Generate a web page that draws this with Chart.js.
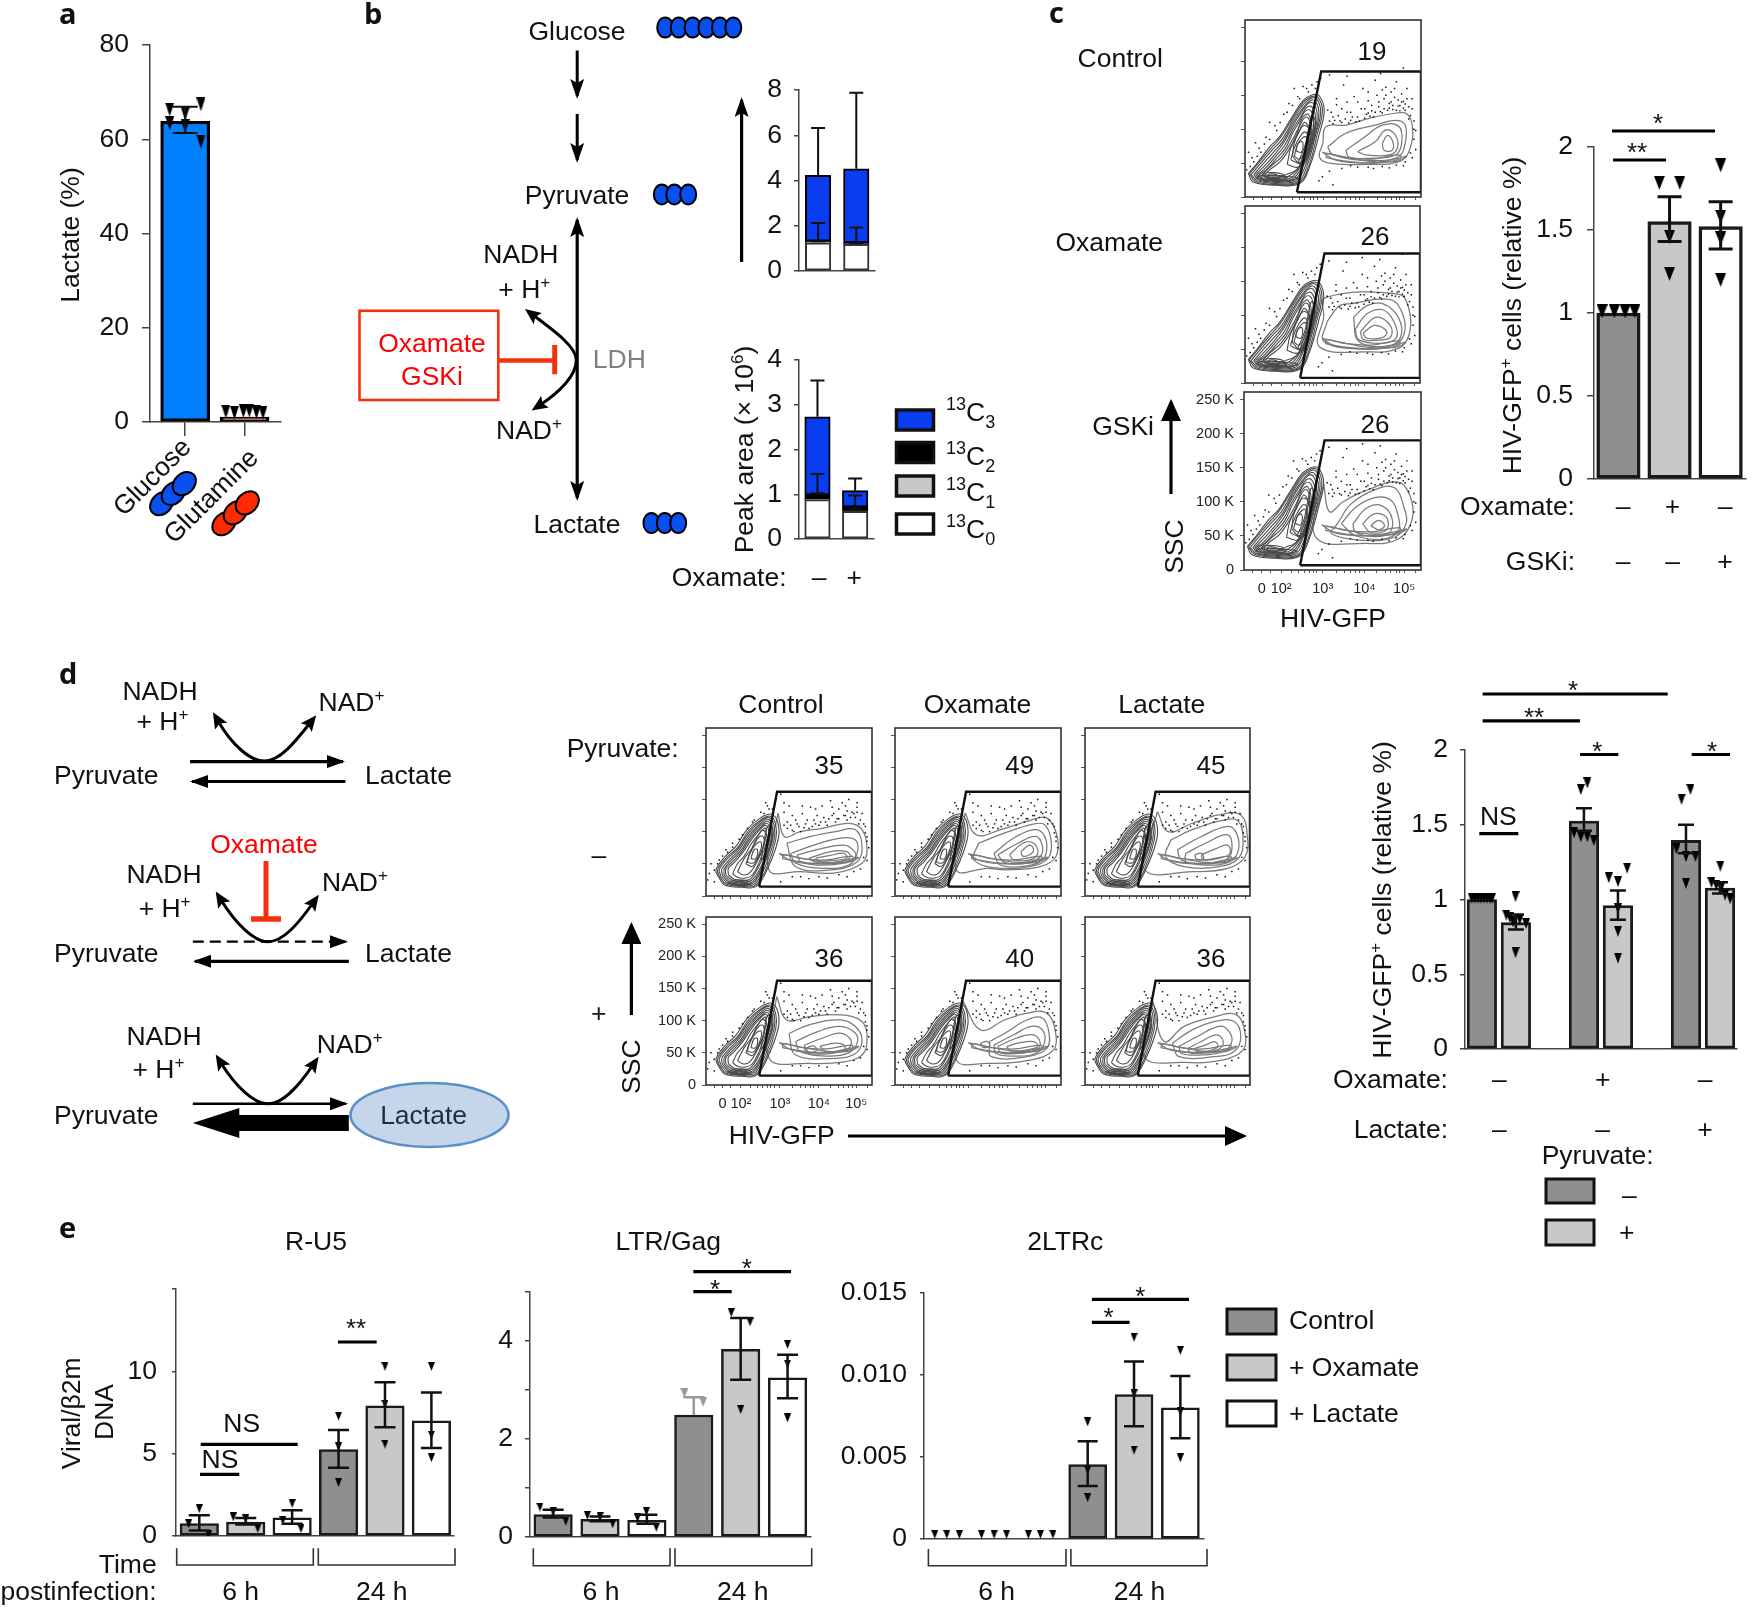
<!DOCTYPE html>
<html>
<head>
<meta charset="utf-8">
<script src="https://cdn.jsdelivr.net/npm/chart.js@4"></script>
<style>
  html, body { margin: 0; background: #fff; }
  #page { position: relative; width: 1752px; height: 1607px; overflow: hidden; background: #fff; }
  #page canvas { position: absolute; }
  #overlay { position: absolute; left: 0; top: 0; pointer-events: none; }
</style>
</head>
<body>
<div id="page"></div>
<script>
// ---- panel a
const aPos = [0, 1];
const aValues = [63.8, 1.07];
const aColors = ['#0080ff', '#f0605a'];
const aErrHi = [66.9];
const aErrLo = [61.3];
const aTriX = [-0.26, -0.26, 0, 0, 0.265, 0.265, 0.685, 0.83, 0.98, 1.08, 1.2, 1.31];
const aTriY = [66.3, 63.4, 65.4, 62.8, 67.4, 59.5, 2.2, 2, 2.3, 2.4, 2.1, 2];
const aYTicks = [0, 20, 40, 60, 80];
const aYLabels = ['0', '20', '40', '60', '80'];

// ---- panel b, stacked isotopologues (pyruvate on top, lactate below)
const bPos = [0, 1];
const pyrC0 = [1.25, 1.18];
const pyrC1 = [0.01, 0.01];
const pyrC2 = [0.06, 0.05];
const pyrC3 = [2.91, 3.28];
const pyrErrX = [0, 1, 0, 1];
const pyrErrHi = [6.32, 7.88, 2.12, 1.92];
const pyrErrLo = [4.23, 4.52, 1.31, 1.24];
const pyrLoCap = [false, false, true, true];
const pyrYTicks = [0, 2, 4, 6, 8];
const lacC0 = [0.88, 0.62];
const lacC1 = [0.01, 0.01];
const lacC2 = [0.09, 0.08];
const lacC3 = [1.75, 0.37];
const lacErrX = [0, 1, 0, 1];
const lacErrHi = [3.54, 1.35, 1.45, 0.97];
const lacErrLo = [2.73, 1.08, 1.02, 0.68];
const lacLoCap = [false, false, true, true];
const lacYTicks = [0, 1, 2, 3, 4];

// ---- panel c bars
const cPos = [0, 1, 2];
const cValues = [1.0, 1.55, 1.52];
const cErrX = [1, 2];
const cErrHi = [1.70, 1.67];
const cErrLo = [1.43, 1.385];
const cTriX = [-0.32, -0.08, 0.13, 0.32, 0.8, 1.2, 1, 1, 2, 2, 2, 2];
const cTriY = [1.01, 1.01, 1.01, 1.01, 1.785, 1.785, 1.46, 1.236, 1.89, 1.58, 1.45, 1.2];
const cYTicks = [0, 0.5, 1, 1.5, 2];
const cYLabels = ['0', '0.5', '1', '1.5', '2'];

// ---- panel d bars
const dPos = [0, 1, 3, 4, 6, 7];
const dValues = [1.0, 0.845, 1.525, 0.96, 1.395, 1.077];
const dErrX = [1, 3, 4, 6, 7];
const dErrHi = [0.9, 1.61, 1.06, 1.5, 1.115];
const dErrLo = [0.8, 1.46, 0.865, 1.31, 1.04];
const dTriX = [-0.3, -0.21, -0.12, -0.03, 0.06, 0.15, 0.24, 0.3,
  0.99, 0.72, 0.82, 0.92, 1.11, 1.3, 0.99,
  2.91, 3.1, 2.71, 2.91, 3.1, 3.29,
  4.27, 3.73, 4, 4, 4, 4,
  5.87, 6.13, 5.72, 6, 6.28, 6,
  7.01, 6.75, 6.89, 7.03, 7.15, 7.3];
const dTriY = [1.01, 1.01, 1.01, 1.01, 1.01, 1.01, 1.01, 1.01,
  1.02, 0.895, 0.88, 0.85, 0.865, 0.84, 0.645,
  1.736, 1.78, 1.446, 1.42, 1.42, 1.395,
  1.21, 1.146, 1.12, 0.94, 0.787, 0.608,
  1.67, 1.736, 1.338, 1.287, 1.287, 1.108,
  1.223, 1.113, 1.095, 1.077, 1.03, 1.005];

// ---- panel e bars
const ePos = [0, 1, 2, 3, 4, 5];
const ruValues = [0.75, 0.85, 1.1, 5.25, 7.9, 7.0];
const ruErrHi = [1.26, 1.1, 1.56, 6.43, 9.33, 8.72];
const ruErrLo = [0.34, 0.7, 0.75, 4.14, 6.6, 5.35];
const ruTriX = [-0.23, 0, 0.2, 0.73, 1, 1.26, 1.8, 2, 2.19, 3, 3, 3, 4, 4, 4, 5, 5, 5];
const ruTriY = [0.75, 1.66, 0.08, 1.16, 1.05, 0.45, 0.95, 1.97, 0.45, 7.28, 5.42, 3.25, 10.3, 8, 5.58, 10.3, 6.13, 4.75];
const ruYTicks = [0, 5, 10, 15];
const ruYLabels = ['0', '5', '10', ''];

const gagValues = [0.46, 0.36, 0.34, 2.49, 3.83, 3.25];
const gagErrHi = [0.556, 0.42, 0.454, 2.85, 4.47, 3.72];
const gagErrLo = [0.4, 0.32, 0.27, 2.49, 3.21, 2.83];
const gagLoCap = [true, true, true, false, true, true];
const gagTriX = [-0.28, 0, 0.27, 0.73, 1, 1.27, 1.8, 1.99, 2.2, 3.8, 4.2, 4, 5, 5, 5];
const gagTriY = [0.61, 0.52, 0.32, 0.44, 0.42, 0.27, 0.39, 0.52, 0.2, 4.58, 4.39, 2.6, 3.93, 3.53, 2.43];
const gagGreyTriX = [2.8, 3.2];
const gagGreyTriY = [2.94, 2.76];
const gagYTicks = [0, 1, 2, 3, 4, 5];
const gagYLabels = ['0', '', '2', '', '4', ''];

const lrcValues = [0, 0, 0, 0.00454, 0.0088, 0.008];
const lrcErrX = [3, 4, 5];
const lrcErrHi = [0.00596, 0.01083, 0.00994];
const lrcErrLo = [0.00323, 0.00688, 0.00615];
const lrcTriX = [-0.3, -0.04, 0.23, 0.71, 0.98, 1.25, 1.72, 1.98, 2.25, 3, 3, 3, 4, 4, 4, 5, 5, 5];
const lrcTriY = [0.00028, 0.00028, 0.00028, 0.00028, 0.00028, 0.00028, 0.00028, 0.00028, 0.00028,
  0.00714, 0.0042, 0.00252, 0.0123, 0.00886, 0.00542, 0.0115, 0.00775, 0.00495];
const lrcYTicks = [0, 0.005, 0.01, 0.015];
const lrcYLabels = ['0', '0.005', '0.010', '0.015'];

// ---- flow plots: x is percent of the display axis, y is SSC in thousands
const flowYTicks = [0, 50, 100, 150, 200, 250];
const flowYLabels = ['0', '50 K', '100 K', '150 K', '200 K', '250 K'];
const flowXTicks = [5, 10, 15, 21, 27, 31, 34, 37, 39, 41, 44.5, 52, 57, 60, 63, 65, 68, 75, 80, 83, 86, 88, 90.5, 97];
const flowXLabels = { 10: '0', 21: '10²', 44.5: '10³', 68: '10⁴', 90.5: '10⁵' };

const flowLeftC = [
  [[1.9,34.6],[4.7,22],[17.9,17.3],[31,19.8],[36.7,44.5],[42.3,93.9],[45,128],[42.3,149],[38.5,150.7],[33,142],[26.3,116],[19.7,89],[14,74],[6.6,49]],
  [[2.5,34],[6,23],[18,18.5],[30.5,21],[36,44],[41,92],[44,127],[41.5,147],[38,148],[33,139],[26.5,114],[20,87],[14.5,71],[7,48]],
  [[3.5,33],[7,24],[18,20],[30,22],[35,44],[40,90],[43,125],[41,144],[38,146],[33,136],[27,112],[21,85],[15,68],[8,47]],
  [[5,33],[8,25],[18,21.5],[29,23.5],[34,44],[39.5,90],[42,123],[40,141],[37,142],[32.5,130],[27,108],[21.5,82],[15.5,64],[9,45]],
  [[6,33],[9,26],[18,23],[28,25],[33,45],[39,90],[41,120],[39,138],[36,138],[32,125],[27,104],[22,80],[16,60],[10,43]],
  [[7,33],[10,26.5],[18,24.5],[27,26.5],[32.5,46],[38.5,89],[40,118],[38,133],[35,132],[31.5,118],[27,99],[22.5,76],[16.5,57],[11,41]],
  [[8,33],[11,27],[18,26],[26,28],[32,48],[38,88],[39,115],[37,128],[34,126],[31,112],[27,94],[23,72],[17,54],[12,40]],
  [[9.5,32.5],[12.5,27.5],[19,27.5],[25,31],[30,42],[35.5,70],[38,100],[36,122],[33,118],[30,100],[26,80],[21,60],[15,46]],
  [[11,32],[14,28],[20,29],[24,34],[28,38],[33,50],[37,85],[37,108],[35,118],[32,110],[29,90],[25,70],[20,52],[14,40]],
  [[24,48],[30,44],[35,58],[37,85],[36,102],[33,105],[30,92],[26,72]],
  [[26,55],[31,50],[35,65],[36,88],[34,96],[31,88],[28,72]],
  [[27,60],[32,48],[36,70],[37,95],[34,110],[31,98],[28,80]],
  [[28,60],[31,56],[35,72],[35,88],[33,88],[30,78]],
  [[29,68],[32,66],[33,78],[32,82],[30,78]],
  [[30,50],[34,52],[38,80],[40,110],[38,120],[36,100],[34,75]],
  [[31,46],[34,50],[37,72],[39,95],[37,100],[35,78]],
  [[6,28],[14,24],[24,24],[30,28],[20,31],[10,32]],
  [[12,30],[18,26],[24,28],[22,31],[15,32]],
  [[10,31],[15,29],[20,30],[22,33],[16,36],[11,35]],
  [[13,31.5],[17,31],[18,33],[14,34]]
];
const flowDotsC = [[47,128],[50,118],[52,136],[54,112],[56,165],[58,125],[60,113],[62,148],[64,118],[66,130],[67,160],[69,122],[70,142],[72,127],[73,118],[74,172],[75,150],[76,133],[78,124],[79,145],[80,162],[81,128],[82,138],[83,155],[84,129],[85,147],[86,170],[87,134],[88,127],[89,152],[90,141],[91,128],[92,160],[93,133],[94,120],[95,145],[96,112],[97,98],[96,85],[97,70],[95,58],[90,46],[82,43],[73,42],[64,44],[55,42],[48,38],[44,30],[50,18],[42,24],[38,165],[41,170],[36,155],[30,148],[25,138],[22,122],[17,105],[12,88],[8,72],[4,58],[2,66],[1,40],[6,80],[14,110],[28,160],[33,163],[48,180],[58,178],[67,185],[77,182],[90,190],
  [48,112],[50,108],[51,113],[53,120],[55,110],[57,115],[59,109],[61,118],[63,111],[65,112],[68,116],[70,124],[71,119],[74,125],[77,126],[79,130],[82,131],[84,135],[86,128],[88,135],[90,131],[91,137],[89,140],[87,143],[83,140],[80,150],[76,140],[72,135],[68,130],[60,125],[55,130],[49,125],[52,145],[58,140],[64,140],[70,155],[78,158],[85,160],[92,145],[95,130],[93,115],[96,100],[94,65],[91,52],[86,47],[78,45],[70,44],[60,46],[3,45],[5,52],[7,60],[9,66],[11,78],[14,85],[18,98],[20,110],[24,125],[27,135],[31,145],[35,160],[40,160],[43,175]];
const flowBand = [
  [[46,58],[60,52],[75,50],[88,56],[88,62],[72,56],[58,58],[47,64]],
  [[44,66],[55,60],[70,53],[85,52],[92,60],[85,56],[70,50],[52,54]]
];
const flowRightC1 = [
  [[44.2,79],[46,103.7],[57.3,106],[70.5,116],[85.5,123.5],[92,122.5],[95,106],[94.6,79],[89,54],[70.5,48],[48,50],[42.3,59]],
  [[47,74],[57.3,94],[74,106],[85.5,113],[91,106],[91,79],[87,59],[70.5,54],[50,62]],
  [[57.3,69],[67,86.5],[78,106],[87.5,104],[89,79],[85.5,62],[70.5,57],[59,59]],
  [[64,67],[74,81.5],[80,99],[85.5,91],[86.5,71.6],[82,62],[68.6,62]],
  [[78,79],[81,91],[84,81.5],[83.6,69],[79,69]]
];
const flowRightC2 = [
  [[45,97],[46,126],[87.6,131],[93.5,111],[94,73],[87.6,51],[69.7,46],[42.7,53]],
  [[47,91],[54,114],[60.7,117],[83,123],[90,102],[91,73],[85,56],[66,51],[45,61.5]],
  [[62,97],[69.7,114],[78.6,117],[87.6,97],[88.8,67],[81,54.5],[65,61.5]],
  [[63,79],[69.7,102],[78.6,108],[85,91],[86.5,67],[78.6,58.6],[65,64]],
  [[66,76],[75,97],[83,85],[83,67],[74,63],[67.4,64.5]],
  [[67.4,73],[74,85],[81,76],[78.6,67],[69.7,66]]
];
const flowRightC3 = [
  [[45,126],[48.3,85.5],[56,100],[67,114.6],[87,129],[93.8,109],[95,74],[87,45],[69.4,39],[40.6,48]],
  [[52.8,68],[60.5,97],[73.8,117.6],[85,120.5],[90.5,91],[91.6,68],[85,48],[67,43.6],[49.4,53.5]],
  [[55,68],[62.7,91],[73.8,106],[82.7,103],[87,80],[87,56.5],[78,45],[62.7,50.6]],
  [[61.6,68],[69.4,91],[78,94],[83.8,74],[81.6,53.5],[71.6,49.5],[62.7,56.5]],
  [[67,68],[73.8,82.6],[80.5,77],[80.5,59],[71.6,55]],
  [[71.6,65],[76,72.7],[79.4,65],[76,59]]
];
const gateC1 = [[29.5,7],[43.3,185],[100,185],[100,7],[29.5,7]];
const gateC2 = [[31.5,7.6],[45.4,191],[100,191],[100,7.6],[31.5,7.6]];
const gateC3 = [[31.7,7],[45.5,190],[100,190],[100,7],[31.7,7]];
const gateD = [[32,14.5],[42.8,162],[100,162],[100,14.5],[32,14.5]];

const flowLeftD = [
  [[7.4,30],[11.4,17],[22,13.5],[30,14.5],[36.7,40.5],[43.4,87],[43.4,113],[39.4,127],[32.7,121],[24.7,103],[18,77],[11.4,61],[6,40.5]],
  [[8.2,30],[12,18.5],[22,15],[29.5,16],[36,41],[42,87],[42,111],[38.7,124],[33,118],[25.5,101],[19,75],[12,59],[7,40.5]],
  [[9,31],[13,20],[22,16.5],[29,18],[35,42],[41,87],[41,110],[38,122],[33,116],[26,99],[19.5,74],[13,58],[8,41]],
  [[10,31.5],[14,21.5],[22,18],[28.5,20],[34,43],[40,86],[40,108],[37.5,119],[33,113],[26.5,96],[20,72],[14,56],[9.5,41.5]],
  [[11,32],[15,23],[22,20],[28,22],[33.5,44],[39.5,85],[39.5,106],[37,116],[33,110],[27,94],[21,71],[15,55],[11,42]],
  [[12,32.5],[16,24.5],[22,22],[27.5,24.5],[33,45],[39,85],[39,103],[36.5,113],[32.7,106],[27.2,91],[21.5,69],[16,53.5],[12,42.5]],
  [[13.5,33],[17,26],[22,24],[27,27],[32,47],[38,84],[38,100],[36,110],[32.5,103],[27.5,88],[22,67],[17,52],[13.5,43]],
  [[16,35],[19,29],[24,28],[28,33],[32,52],[36.5,84],[36.5,96],[34,102],[31.5,95],[27,80],[23,62],[19,50]],
  [[19,38],[22,33],[26,35],[31,55],[35,80],[34.5,92],[32,92],[28,75],[23,58]],
  [[24,50],[28,46],[32,62],[35.5,85],[36,105],[33,100],[29,82]],
  [[25,52],[29,52],[33,72],[33,84],[30,80],[26,64]],
  [[27,58],[30,58],[31,72],[29,72]],
  [[33,55],[35,62],[38,85],[39,105],[37,108],[35,85]],
  [[13,20],[20,17],[27,19],[26,23],[18,25]],
  [[15,19],[20,16],[26,18],[24,21],[18,22]],
  [[17,19],[21,17.5],[24,19],[20,20.5]]
];
const flowDotsD = [[45,158],[47,130],[49,115],[50,140],[52,102],[54,118],[56,108],[58,128],[60,112],[62,105],[63,138],[65,118],[67,125],[68,110],[70,140],[72,115],[74,120],[75,148],[77,128],[79,120],[80,135],[82,145],[84,125],[85,118],[86,150],[88,130],[90,122],[91,138],[92,112],[94,128],[96,108],[97,92],[98,75],[97,55],[93,42],[85,30],[73,28],[62,27],[52,30],[45,22],[38,135],[35,128],[28,115],[22,95],[16,82],[12,72],[8,56],[3,50],[2,35],[1,25],[5,22],[36,145],[42,150],
  [47,110],[49,105],[51,110],[53,100],[55,112],[57,100],[59,106],[61,118],[64,108],[66,112],[69,115],[71,122],[73,110],[76,125],[78,115],[80,120],[83,125],[85,132],[87,122],[89,128],[91,130],[93,118],[95,112],[91,145],[84,140],[76,138],[66,135],[58,140],[52,125],[47,145],[96,98],[97,85],[95,60],[89,38],[80,33],[68,30],[57,30],[5,40],[7,50],[10,62],[13,68],[16,76],[20,88],[25,105],[29,118],[33,130],[37,140],[40,135]];
const flowRightD1 = [
  [[43.4,129],[47.3,92],[56.7,100],[70,105],[86,113],[94,103],[97,71.6],[94,51],[78,36],[56.7,38],[38,40.5]],
  [[48.7,82],[62,92],[78,100],[90,103],[94,77],[91,53],[75,40.5],[54,45.7]],
  [[51,66],[65,79],[81,90],[90,87],[91,66],[86,48],[70,43],[54,51]],
  [[55,64],[70,74],[83,79],[88.6,71.6],[90,61],[83,51],[67,48],[57,53.5]],
  [[62,58.6],[75,69],[84.6,69],[87,61],[80.6,53.5],[67,52]],
  [[66,58.6],[75,63],[83,66.5],[84.6,58.6],[75,55],[67,54.5]]
];
const flowRightD2 = [
  [[42.3,129],[49,95],[63.6,103],[82,118],[91.6,121],[97.7,92.5],[96.9,61],[87.5,45.7],[66.2,40.5],[55.6,43],[37,40.5]],
  [[50.3,82],[66.2,98],[82,111],[90,111],[94,87],[92.8,61],[84.9,48],[63.6,43],[47.6,56]],
  [[59.6,66],[71.5,90],[83.5,103],[88.8,98],[91.5,77],[88.8,56],[79.5,47],[63.6,48]],
  [[62,64],[74,82],[84.9,92.5],[88.8,77],[87.5,61],[79.5,51],[66.2,52]],
  [[69,64],[77,82],[83.5,82],[86,66],[81,56],[71.5,56]],
  [[75.9,69],[81,79],[83.5,71.6],[81,64],[77,62]]
];
const flowRightD3 = [
  [[43.9,131],[50.5,100],[65,113],[81,126],[94.4,126],[98.4,92.5],[97,61],[86.5,43],[65,38],[36,41.5]],
  [[52,87],[65,103],[84,118],[93,116],[95.8,87],[93,58.6],[81,45.7],[60,45.7],[49,61]],
  [[56,71.6],[70.5,92.5],[86.5,108],[91.8,98],[93,71.6],[87.8,53.5],[73,48],[58.5,56]],
  [[61,66],[73,82],[86.5,95],[89,71.6],[85,56],[70.5,51],[61,53.5]],
  [[70.5,64],[79.8,74],[86.5,79],[87.8,66],[81,58.6],[71.8,56]],
  [[66.5,64],[70.5,66.5],[71.8,58.6],[67.8,57]]
];
const flowRightD4 = [
  [[42.6,137.5],[48.7,101],[62,106],[80.6,109],[94,98.6],[97,70],[94,46.7],[83,36],[62,33.7],[38,41.5]],
  [[50,80],[62,93.4],[80.6,101],[90,91],[94,70],[90,49],[78,41.5],[54,46.7]],
  [[54,67.5],[67.3,83],[80.6,91],[90,80.5],[91,65],[86,50],[72.6,45],[56.7,52]],
  [[59.3,62],[70,72.6],[80.6,80.5],[87.2,70],[86,57],[75,49],[60.6,50]],
  [[68.6,60],[78,65],[83.2,62],[83.2,54.5],[72.6,52]],
  [[60,57],[64.6,60.7],[66.8,54.5],[62.5,50]]
];
const flowRightD5 = [
  [[41,130],[51.6,85.6],[66.2,101],[79.5,111.6],[91.5,111.6],[96.8,80.5],[95.5,54.5],[82,39],[55.6,33.7],[37,39]],
  [[57,67.5],[66.2,80.5],[79.5,101],[88.8,104],[92.8,80.5],[91.5,57],[79.5,44],[58,44]],
  [[59.6,62],[71.5,78],[82,91],[88.8,85.6],[90,65],[84.9,49],[71.5,45],[61,49]],
  [[62,60],[73,72.6],[83.5,78],[87.5,65],[84.9,54.5],[74,49],[63.6,50]],
  [[67.5,60],[74,65],[83.5,67.5],[86,60],[79.5,54.5],[69,53.5]],
  [[51.6,65],[55.6,67.5],[57,60.7],[53,58.6]]
];
const flowRightD6 = [
  [[41.2,130],[48,67.5],[60,91],[78.5,106],[91.8,109],[97,80.5],[95.8,54.5],[83.8,39],[60,35],[36,44]],
  [[53,65],[65,85.6],[78.5,98.6],[90.4,98.6],[94.4,75],[90.4,52],[78.5,44],[57,44]],
  [[57,60],[67.8,75],[81,91],[86.5,85.6],[89,67.5],[83.8,52],[70.5,46.7],[58.5,49]],
  [[62.5,57],[70.5,67.5],[79.8,78],[83.8,67.5],[81,55.5],[70.5,50],[63.8,50]],
  [[66.5,57],[73,62],[78.5,67.5],[80.6,60],[75.8,53.5],[67.8,52]]
];

// ---- chart helpers
const FONT = '"Liberation Sans", Arial, sans-serif';
const AXIS = '#444';
const page = document.getElementById('page');

function tri(w, h, color) {
  const c = document.createElement('canvas');
  c.width = w; c.height = h;
  const g = c.getContext('2d');
  g.fillStyle = color;
  g.beginPath(); g.moveTo(0, 0); g.lineTo(w, 0); g.lineTo(w / 2, h); g.closePath(); g.fill();
  return c;
}

function triSet(xs, ys, w, h, color) {
  return {
    type: 'scatter', order: 0, pointStyle: tri(w, h, color), pointRadius: 5,
    data: xs.map((x, i) => ({ x: x, y: ys[i] }))
  };
}

function barSet(pos, vals, colors, thick, bw, edge) {
  return {
    type: 'bar', order: 2, barThickness: thick, backgroundColor: colors,
    borderColor: edge || '#222', borderWidth: bw, borderSkipped: false,
    data: pos.map((x, i) => ({ x: x, y: vals[i] }))
  };
}

function errPlugin(e) {
  return {
    id: 'errbars',
    afterDatasetsDraw(chart) {
      const g = chart.ctx, xs = chart.scales.x, ys = chart.scales.y;
      g.save();
      g.lineWidth = e.width || 2.5;
      e.x.forEach((x, i) => {
        const px = xs.getPixelForValue(x), hi = ys.getPixelForValue(e.hi[i]), lo = ys.getPixelForValue(e.lo[i]);
        g.strokeStyle = (e.colors && e.colors[i]) || '#111';
        g.beginPath();
        g.moveTo(px, lo); g.lineTo(px, hi);
        g.moveTo(px - e.cap, hi); g.lineTo(px + e.cap, hi);
        if (!e.loCap || e.loCap[i]) { g.moveTo(px - e.cap, lo); g.lineTo(px + e.cap, lo); }
        g.stroke();
      });
      g.restore();
    }
  };
}

function addCanvas(box, m) {
  const left = Math.round(box[0]), top = Math.round(box[1]);
  const c = document.createElement('canvas');
  c.width = Math.round(box[2]) - left + m.l + m.r;
  c.height = Math.round(box[3]) - top + m.t + m.b;
  c.style.left = (left - m.l) + 'px';
  c.style.top = (top - m.t) + 'px';
  page.appendChild(c);
  return c;
}

function barChart(o) {
  const m = { l: o.ml || 90, r: o.mr === undefined ? 4 : o.mr, t: 40, b: 50 };
  const c = addCanvas(o.box, m);
  new Chart(c, {
    type: 'bar',
    data: { datasets: o.datasets },
    plugins: o.err ? [errPlugin(o.err)] : [],
    options: {
      responsive: false, animation: false, events: [],
      layout: { padding: { top: m.t, right: m.r, left: 0, bottom: 0 } },
      plugins: { legend: { display: false }, tooltip: { enabled: false } },
      scales: {
        x: {
          type: 'linear', min: o.xLim[0], max: o.xLim[1], offset: false, bounds: 'data', stacked: !!o.stacked,
          afterBuildTicks: s => { s.ticks = (o.xTicks || []).map(v => ({ value: v })); },
          afterFit: s => { s.height = m.b; },
          ticks: { display: false },
          grid: { display: !!o.xTicks, offset: false, drawOnChartArea: false, drawTicks: true, tickLength: o.xTickLen || 0, color: AXIS, lineWidth: 1.5 },
          border: { display: true, color: AXIS, width: 1.5, dash: o.xDash || [] }
        },
        y: {
          type: 'linear', min: o.yLim[0], max: o.yLim[1], bounds: 'data', stacked: !!o.stacked,
          afterBuildTicks: s => { s.ticks = o.yTicks.map(v => ({ value: v })); },
          afterFit: s => { s.width = m.l; },
          ticks: {
            autoSkip: false, padding: o.tickPad, color: '#111',
            font: { family: FONT, size: 26.5 },
            callback: (v, i) => o.yLabels[i]
          },
          grid: { drawOnChartArea: false, drawTicks: true, tickLength: o.tickLen, color: AXIS, lineWidth: 1.5 },
          border: { display: true, color: AXIS, width: 1.5 }
        }
      }
    }
  });
}

const pts = arr => arr.map(p => ({ x: p[0], y: p[1] }));

const framePlugin = {
  id: 'frame',
  afterDraw(chart) {
    const a = chart.chartArea, g = chart.ctx;
    g.save();
    g.strokeStyle = '#333'; g.lineWidth = 1.6;
    g.strokeRect(a.left, a.top, a.right - a.left, a.bottom - a.top);
    g.restore();
  }
};

function flowPlot(box, left, right, dots, gate, labelled) {
  const m = { l: 70, r: 2, t: 22, b: 40 };
  const loop = (p, color, w) => ({
    data: pts(p.concat([p[0]])), showLine: true, tension: 0.4, pointRadius: 0,
    borderColor: color, borderWidth: w, fill: false, order: 3
  });
  const sets = [
    { data: pts(gate), showLine: true, tension: 0, pointRadius: 0, borderColor: '#111', borderWidth: 2.4, order: 0 },
    { data: pts(dots), showLine: false, pointRadius: 1.05, pointStyle: 'rect', backgroundColor: '#111', borderWidth: 0, order: 1 }
  ];
  left.forEach(p => sets.push(loop(p, '#4a4a4a', 1.1)));
  right.concat(flowBand).forEach(p => sets.push(loop(p, '#7a7a7a', 1.25)));
  new Chart(addCanvas(box, m), {
    type: 'scatter',
    data: { datasets: sets },
    plugins: [framePlugin],
    options: {
      responsive: false, animation: false, events: [],
      layout: { padding: { top: m.t, right: m.r, left: 0, bottom: 0 } },
      plugins: { legend: { display: false }, tooltip: { enabled: false } },
      scales: {
        x: {
          type: 'linear', min: 0, max: 100, bounds: 'data',
          afterBuildTicks: s => { s.ticks = flowXTicks.map(v => ({ value: v })); },
          afterFit: s => { s.height = m.b; },
          ticks: {
            display: labelled, autoSkip: false, maxRotation: 0, padding: 7, color: '#222',
            font: { family: FONT, size: 14.5 },
            callback: v => flowXLabels[v] || ''
          },
          grid: { drawOnChartArea: false, tickLength: 3, color: '#555' },
          border: { display: false }
        },
        y: {
          type: 'linear', min: 0, max: 261, bounds: 'data',
          afterBuildTicks: s => { s.ticks = flowYTicks.map(v => ({ value: v })); },
          afterFit: s => { s.width = m.l; },
          ticks: {
            display: labelled, autoSkip: false, padding: 6, color: '#222',
            font: { family: FONT, size: 14.5 },
            callback: (v, i) => flowYLabels[i]
          },
          grid: { drawOnChartArea: false, tickLength: 4, color: '#555' },
          border: { display: false }
        }
      }
    }
  });
}

// ---- panel a
barChart({
  box: [150, 44.5, 283, 422], xLim: [-0.592, 1.614], yLim: [0, 80], yTicks: aYTicks, yLabels: aYLabels,
  tickLen: 8, tickPad: 13, xTicks: aPos, xTickLen: 14,
  datasets: [triSet(aTriX, aTriY, 9, 14, '#000'), barSet(aPos, aValues, aColors, 49, 3.2, '#000')],
  err: { x: [0], hi: aErrHi, lo: aErrLo, cap: 12.5, width: 2 }
});

// ---- panel b
function stackSets(c0, c1, c2, c3) {
  return [
    barSet(bPos, c0, '#fff', 25.5, 2, '#333'),
    barSet(bPos, c1, '#c8c8c8', 25.5, 1, '#000'),
    barSet(bPos, c2, '#000', 25.5, 1, '#000'),
    barSet(bPos, c3, '#0a3cf0', 25.5, 2, '#000')
  ];
}
barChart({
  box: [799, 90.3, 874.7, 270.6], xLim: [-0.5, 1.49], yLim: [0, 8], yTicks: pyrYTicks, yLabels: pyrYTicks.map(String),
  tickLen: 5, tickPad: 12, stacked: true, datasets: stackSets(pyrC0, pyrC1, pyrC2, pyrC3),
  err: { x: pyrErrX, hi: pyrErrHi, lo: pyrErrLo, loCap: pyrLoCap, cap: 7, width: 2 }
});
barChart({
  box: [798.8, 359.7, 874, 538.5], xLim: [-0.49, 1.5], yLim: [0, 4], yTicks: lacYTicks, yLabels: lacYTicks.map(String),
  tickLen: 5, tickPad: 12, stacked: true, datasets: stackSets(lacC0, lacC1, lacC2, lacC3),
  err: { x: lacErrX, hi: lacErrHi, lo: lacErrLo, loCap: lacLoCap, cap: 7, width: 2 }
});

// ---- panel c
flowPlot([1245, 19.8, 1423, 197.2], flowLeftC, flowRightC1, flowDotsC, gateC1, false);
flowPlot([1245, 205.6, 1422, 383], flowLeftC, flowRightC2, flowDotsC, gateC2, false);
flowPlot([1244, 391.7, 1423, 570.2], flowLeftC, flowRightC3, flowDotsC, gateC3, true);
barChart({
  box: [1593.5, 146.8, 1752, 479.4], xLim: [-0.478, 2.496], yLim: [0, 2], yTicks: cYTicks, yLabels: cYLabels,
  tickLen: 7, tickPad: 14, mr: 0,
  datasets: [triSet(cTriX, cTriY, 11, 14, '#000'), barSet(cPos, cValues, ['#8f8f8f', '#c8c8c8', '#fff'], 43.5, 3.5, '#1a1a1a')],
  err: { x: cErrX, hi: cErrHi, lo: cErrLo, cap: 12, width: 3 }
});

// ---- panel d
flowPlot([706, 728.3, 873.8, 896], flowLeftD, flowRightD1, flowDotsD, gateD, false);
flowPlot([895.3, 728.3, 1063, 896], flowLeftD, flowRightD2, flowDotsD, gateD, false);
flowPlot([1084.5, 728.3, 1252.4, 896], flowLeftD, flowRightD3, flowDotsD, gateD, false);
flowPlot([706, 917.3, 873.8, 1085], flowLeftD, flowRightD4, flowDotsD, gateD, true);
flowPlot([895.3, 917.3, 1063, 1085], flowLeftD, flowRightD5, flowDotsD, gateD, false);
flowPlot([1084.5, 917.3, 1252.4, 1085], flowLeftD, flowRightD6, flowDotsD, gateD, false);
barChart({
  box: [1465, 750.3, 1739.3, 1048.8], xLim: [-0.496, 7.5], yLim: [0, 2], yTicks: cYTicks, yLabels: cYLabels,
  tickLen: 5, tickPad: 12,
  datasets: [triSet(dTriX, dTriY, 8, 11, '#000'),
    barSet(dPos, dValues, ['#8f8f8f', '#c8c8c8', '#8f8f8f', '#c8c8c8', '#8f8f8f', '#c8c8c8'], 29.5, 2.8, '#1a1a1a')],
  err: { x: dErrX, hi: dErrHi, lo: dErrLo, cap: 8, width: 2.5 }
});

// ---- panel e
const eColors = ['#8f8f8f', '#c8c8c8', '#fff', '#8f8f8f', '#c8c8c8', '#fff'];
barChart({
  box: [175.7, 1289.3, 456, 1535.7], xLim: [-0.502, 5.487], yLim: [0, 15], yTicks: ruYTicks, yLabels: ruYLabels,
  tickLen: 4, tickPad: 15,
  datasets: [triSet(ruTriX, ruTriY, 7, 9, '#000'), barSet(ePos, ruValues, eColors, 38.5, 2.5, '#1a1a1a')],
  err: { x: ePos, hi: ruErrHi, lo: ruErrLo, cap: 10.5, width: 2.5 }
});
barChart({
  box: [530, 1291.7, 813.3, 1537.3], xLim: [-0.493, 5.5], yLim: [0, 5], yTicks: gagYTicks, yLabels: gagYLabels,
  tickLen: 5, tickPad: 12,
  datasets: [triSet(gagTriX, gagTriY, 7, 9, '#000'), triSet(gagGreyTriX, gagGreyTriY, 8, 10, '#999'),
    barSet(ePos, gagValues, eColors, 38.5, 2.5, '#1a1a1a')],
  err: { x: ePos, hi: gagErrHi, lo: gagErrLo, loCap: gagLoCap, colors: ['', '', '', '#999', '', ''], cap: 10.5, width: 2.5 }
});
barChart({
  box: [924.4, 1292.7, 1206, 1539], xLim: [-0.532, 5.51], yLim: [0, 0.015], yTicks: lrcYTicks, yLabels: lrcYLabels,
  tickLen: 4, tickPad: 13, ml: 110, xDash: [2, 2],
  datasets: [triSet(lrcTriX, lrcTriY, 7, 9, '#000'), barSet(ePos, lrcValues, eColors, 38, 2.5, '#1a1a1a')],
  err: { x: lrcErrX, hi: lrcErrHi, lo: lrcErrLo, cap: 10, width: 2.5 }
});

// ---- text and pathway drawings on top of the charts
const out = [];
function t(x, y, s, o) {
  o = o || {};
  const rot = o.rot !== undefined ? ` transform="rotate(${o.rot} ${x} ${y})"` : '';
  out.push(`<text x="${x}" y="${y}" text-anchor="${o.a || 'start'}" font-size="${o.size || 26.5}" fill="${o.fill || '#111'}"` +
    ` font-family='${o.bold ? '"Open Sans"' : FONT}' font-weight="${o.bold ? 700 : 400}"${rot}>${s}</text>`);
}
const sup = (s, next) => `<tspan dy="-10" font-size="17">${s}</tspan>` + (next ? `<tspan dy="10">${next}</tspan>` : '');
function line(x1, y1, x2, y2, w, o) {
  o = o || {};
  out.push(`<line x1="${x1}" y1="${y1}" x2="${x2}" y2="${y2}" stroke="${o.c || '#000'}" stroke-width="${w}"` +
    (o.dash ? ` stroke-dasharray="${o.dash}"` : '') + (o.end ? ` marker-end="url(#${o.end})"` : '') + (o.start ? ` marker-start="url(#${o.start})"` : '') + '/>');
}
function curve(d, w) {
  out.push(`<path d="${d}" fill="none" stroke="#000" stroke-width="${w || 3}" marker-start="url(#headS)" marker-end="url(#headE)"/>`);
}
function oval(cx, cy, rx, ry, fill, rot) {
  out.push(`<ellipse cx="${cx}" cy="${cy}" rx="${rx}" ry="${ry}" fill="${fill}" stroke="#000" stroke-width="2"` +
    (rot ? ` transform="rotate(${rot} ${cx} ${cy})"` : '') + '/>');
}
function rect(x, y, w, h, fill, bw, c) {
  out.push(`<rect x="${x}" y="${y}" width="${w}" height="${h}" fill="${fill}" stroke="${c || '#111'}" stroke-width="${bw}"/>`);
}
// significance bar with its stars or label; the star sits at centre height yc
function sig(x1, x2, y, label, lx, yc) {
  line(x1, y, x2, y, 3.2);
  t(lx, yc + 15, label, { a: 'middle', size: 26 });
}

// panel letters
t(59, 24, 'a', { bold: true, size: 29 });
t(364, 24, 'b', { bold: true, size: 29 });
t(1049, 23, 'c', { bold: true, size: 29 });
t(59, 684, 'd', { bold: true, size: 29 });
t(59, 1238, 'e', { bold: true, size: 29 });

// panel a
t(79, 235, 'Lactate (%)', { a: 'middle', rot: -90 });
t(158, 483, 'Glucose', { a: 'middle', rot: -45 });
t(217, 502, 'Glutamine', { a: 'middle', rot: -45 });
[[161.7, 503.6], [173.3, 493.4], [184.3, 483.6]].forEach(p => oval(p[0], p[1], 13, 10, '#0a4ff0', -45));
[[224, 523.7], [235.3, 512.8], [247.3, 502.9]].forEach(p => oval(p[0], p[1], 13, 10, '#ff2a00', -45));

// panel b pathway
t(577, 40, 'Glucose', { a: 'middle' });
t(577, 204, 'Pyruvate', { a: 'middle' });
t(577, 532.7, 'Lactate', { a: 'middle' });
[665.2, 678.7, 692.6, 706.4, 719.9, 733.3].forEach(x => oval(x, 27.5, 8, 10, '#0a4ff0'));
[661.8, 674.3, 688.2].forEach(x => oval(x, 194.4, 8, 10, '#0a4ff0'));
[651.4, 664.8, 678.2].forEach(x => oval(x, 523, 8, 10, '#0a4ff0'));
line(577.2, 50.5, 577.2, 96, 3, { end: 'big' });
line(577.2, 114, 577.2, 160, 3, { end: 'big' });
line(577.2, 220, 577.2, 498, 3.2, { end: 'big', start: 'bigS' });
line(741.6, 262, 741.6, 100, 3.2, { end: 'big' });
t(520.8, 263.3, 'NADH', { a: 'middle' });
t(524.3, 297.7, '+ H' + sup('+'), { a: 'middle' });
t(496, 439, 'NAD' + sup('+'));
t(592.8, 368, 'LDH', { fill: '#808080' });
rect(359.5, 310.8, 138.8, 89.2, 'none', 2.6, '#f5300f');
t(432, 352, 'Oxamate', { a: 'middle', fill: '#f00' });
t(432, 384.6, 'GSKi', { a: 'middle', fill: '#f00' });
line(498, 360.5, 554.7, 360.5, 4.5, { c: '#f5300f' });
line(554.7, 345, 554.7, 374.3, 5, { c: '#f5300f' });
curve('M533,315 C556,332 576,347 576.3,360 C576.5,375 560,392 540,405');
t(753, 449.5, 'Peak area (× 10' + sup('6', ')'), { a: 'middle', rot: -90 });
t(671.7, 585.5, 'Oxamate:');
t(819, 585.5, '–', { a: 'middle' });
t(854.3, 585.5, '+', { a: 'middle' });
rect(896.5, 410, 37, 20, '#0a3cf0', 3.5);
rect(896.5, 442.5, 37, 20, '#000', 3.5);
rect(896.5, 476, 37, 20, '#c8c8c8', 3.5);
rect(896.5, 514, 37, 20, '#fff', 3.5);
function carbon(y, n, size) {
  t(946, y, `<tspan dy="-11" font-size="18">13</tspan><tspan dy="11">C</tspan><tspan dy="7" font-size="18">${n}</tspan>`);
}
carbon(421, 3); carbon(465, 2); carbon(501, 1); carbon(538, 0);

// panel c
t(1163, 67, 'Control', { a: 'end' });
t(1163, 251, 'Oxamate', { a: 'end' });
t(1154, 434.5, 'GSKi', { a: 'end' });
t(1372, 59.5, '19', { a: 'middle', size: 26 });
t(1375, 245, '26', { a: 'middle', size: 26 });
t(1375, 432.5, '26', { a: 'middle', size: 26 });
line(1171, 494, 1171, 402, 3.2, { end: 'huge' });
t(1183.5, 546.6, 'SSC', { a: 'middle', rot: -90 });
t(1333, 627, 'HIV-GFP', { a: 'middle' });
t(1521, 315.5, 'HIV-GFP' + sup('+', ' cells (relative %)'), { a: 'middle', rot: -90 });
sig(1612, 1715, 131, '*', 1658, 117);
sig(1613, 1666, 160, '**', 1637, 146);
t(1575, 515, 'Oxamate:', { a: 'end' });
t(1575, 569.5, 'GSKi:', { a: 'end' });
[['–', 1623], ['+', 1672.5], ['–', 1725]].forEach(p => t(p[1], 515, p[0], { a: 'middle' }));
[['–', 1623], ['–', 1672.5], ['+', 1725]].forEach(p => t(p[1], 569.5, p[0], { a: 'middle' }));

// panel d reaction schemes
t(160, 700.3, 'NADH', { a: 'middle' });
t(162.5, 730, '+ H' + sup('+'), { a: 'middle' });
t(318.5, 711.3, 'NAD' + sup('+'));
t(54, 784, 'Pyruvate');
t(365, 784, 'Lactate');
line(190, 761.6, 343, 761.6, 3.2, { end: 'small' });
line(345.4, 781.5, 192, 781.5, 3.2, { end: 'small' });
curve('M218,721 C232,745 250,761 264.5,761 C280,761 295,742 310,723');

t(264, 852.8, 'Oxamate', { a: 'middle', fill: '#f00' });
line(266, 861, 266, 919, 5, { c: '#f5300f' });
line(251, 919, 281, 919, 5.5, { c: '#f5300f' });
t(164, 882.8, 'NADH', { a: 'middle' });
t(164.6, 916.5, '+ H' + sup('+'), { a: 'middle' });
t(322, 890.7, 'NAD' + sup('+'));
t(54, 962, 'Pyruvate');
t(365, 962, 'Lactate');
line(192.8, 941.7, 330, 941.7, 2.2, { dash: '11 6' });
line(330, 941.7, 346, 941.7, 2.2, { end: 'small' });
line(348.8, 961.3, 195, 961.3, 3.2, { end: 'small' });
curve('M221,900 C236,924 254,941.7 268,941.7 C283,941.7 298,924 313,903');

t(164, 1044.6, 'NADH', { a: 'middle' });
t(158.4, 1078.4, '+ H' + sup('+'), { a: 'middle' });
t(316.8, 1052.5, 'NAD' + sup('+'));
t(54, 1123.8, 'Pyruvate');
out.push('<ellipse cx="429.5" cy="1115" rx="79" ry="32" fill="#c5d5ea" stroke="#5b8fc7" stroke-width="2.6"/>');
t(423.6, 1123.8, 'Lactate', { a: 'middle', fill: '#1f2d40' });
line(192.8, 1103.8, 346, 1103.8, 2.4, { end: 'small' });
out.push('<polygon points="192.8,1123 239.3,1108 239.3,1115 348.8,1115 348.8,1131 239.3,1131 239.3,1138" fill="#000"/>');
curve('M221,1063 C236,1087 254,1103.8 268,1103.8 C283,1103.8 298,1087 313,1065');

// panel d flow labels
t(781, 713.3, 'Control', { a: 'middle' });
t(977.4, 713.3, 'Oxamate', { a: 'middle' });
t(1161.8, 713.3, 'Lactate', { a: 'middle' });
t(566.7, 757, 'Pyruvate:');
t(598.8, 864, '–', { a: 'middle' });
t(598.8, 1022, '+', { a: 'middle' });
[['35', 829, 774.3], ['49', 1019.8, 774.3], ['45', 1211, 774.3], ['36', 829, 966.7], ['40', 1019.8, 966.7], ['36', 1211, 966.7]]
  .forEach(p => t(p[1], p[2], p[0], { a: 'middle', size: 26 }));
line(631.4, 1015, 631.4, 925, 3.2, { end: 'huge' });
t(640, 1066.7, 'SSC', { a: 'middle', rot: -90 });
t(728.7, 1144.3, 'HIV-GFP');
line(848, 1136, 1244, 1136, 3.2, { end: 'huge' });

// panel d bars labels
t(1390.7, 900, 'HIV-GFP' + sup('+', ' cells (relative %)'), { a: 'middle', rot: -90 });
sig(1482.7, 1667.7, 694, '*', 1573, 683.7);
sig(1482.7, 1580, 720.8, '**', 1534, 710.5);
sig(1580, 1618.3, 754.5, '*', 1597.3, 745);
sig(1691.7, 1730, 754.5, '*', 1712, 745);
t(1498.3, 825, 'NS', { a: 'middle' });
line(1479.3, 833.7, 1518.3, 833.7, 3.2);
t(1448, 1088, 'Oxamate:', { a: 'end' });
t(1448, 1138, 'Lactate:', { a: 'end' });
[['–', 1499.3], ['+', 1602.7], ['–', 1705]].forEach(p => t(p[1], 1088, p[0], { a: 'middle' }));
[['–', 1499.3], ['–', 1602.7], ['+', 1705]].forEach(p => t(p[1], 1138, p[0], { a: 'middle' }));
t(1541.7, 1163.6, 'Pyruvate:');
rect(1546, 1179, 48, 24, '#8f8f8f', 3);
rect(1546, 1220, 48, 25, '#c8c8c8', 3);
t(1629.3, 1204, '–', { a: 'middle' });
t(1626.7, 1241, '+', { a: 'middle' });

// panel e labels
t(316, 1250, 'R-U5', { a: 'middle' });
t(668.3, 1250, 'LTR/Gag', { a: 'middle' });
t(1065.3, 1250, '2LTRc', { a: 'middle' });
t(80, 1413.3, 'Viral/β2m', { a: 'middle', rot: -90 });
t(112.7, 1412, 'DNA', { a: 'middle', rot: -90 });
t(156.7, 1572.7, 'Time', { a: 'end' });
t(156.7, 1600, 'postinfection:', { a: 'end' });
function bracket(x1, x2, y1, y2) {
  out.push(`<path d="M${x1},${y1} V${y2} H${x2} V${y1}" fill="none" stroke="#333" stroke-width="1.6"/>`);
}
bracket(176.7, 313.3, 1548.3, 1565);
bracket(318.3, 455, 1548.3, 1565);
bracket(533.3, 670, 1548.3, 1565.7);
bracket(675, 811.7, 1548.3, 1565.7);
bracket(928.4, 1066, 1549, 1565.7);
bracket(1070.9, 1207, 1549, 1565.7);
[['6 h', 240.7], ['24 h', 381.7], ['6 h', 601], ['24 h', 742.7], ['6 h', 996.7], ['24 h', 1139.5]]
  .forEach(p => t(p[1], 1600, p[0], { a: 'middle' }));
t(241.7, 1431.7, 'NS', { a: 'middle' });
line(200.7, 1444.3, 297.7, 1444.3, 3.2);
t(220, 1468.3, 'NS', { a: 'middle' });
line(200, 1474.3, 239.3, 1474.3, 3.2);
sig(338, 376.7, 1342, '**', 356, 1321.7);
sig(693.3, 731.7, 1291.7, '*', 715, 1282.7);
sig(693.3, 791, 1271.7, '*', 746.7, 1262);
sig(1091.9, 1189, 1299.3, '*', 1140.3, 1290);
sig(1091.9, 1129.6, 1322.3, '*', 1108.6, 1311);
rect(1227, 1309, 49, 25, '#8f8f8f', 3);
rect(1227, 1355, 49, 25, '#c8c8c8', 3);
rect(1227, 1401, 49, 25, '#fff', 3);
t(1289, 1329.3, 'Control');
t(1289, 1375.7, '+ Oxamate');
t(1289, 1421.7, '+ Lactate');

const defs = `<defs>
  <marker id="big" markerUnits="userSpaceOnUse" viewBox="0 0 20 14" markerWidth="20" markerHeight="14" refX="17" refY="7" orient="auto"><path d="M0,0 L20,7 L0,14 L4,7 z" fill="#000"/></marker>
  <marker id="huge" markerUnits="userSpaceOnUse" viewBox="0 0 22 20" markerWidth="22" markerHeight="20" refX="19" refY="10" orient="auto"><path d="M0,0 L22,10 L0,20 z" fill="#000"/></marker>
  <marker id="bigS" markerUnits="userSpaceOnUse" viewBox="0 0 20 14" markerWidth="20" markerHeight="14" refX="3" refY="7" orient="auto"><path d="M20,0 L0,7 L20,14 L16,7 z" fill="#000"/></marker>
  <marker id="small" markerUnits="userSpaceOnUse" viewBox="0 0 18 13" markerWidth="18" markerHeight="13" refX="16" refY="6.5" orient="auto"><path d="M0,0 L18,6.5 L0,13 z" fill="#000"/></marker>
  <marker id="headE" markerUnits="userSpaceOnUse" viewBox="0 0 16 14" markerWidth="16" markerHeight="14" refX="6" refY="7" orient="auto"><path d="M0,0 L16,7 L0,14 L3,7 z" fill="#000"/></marker>
  <marker id="headS" markerUnits="userSpaceOnUse" viewBox="0 0 16 14" markerWidth="16" markerHeight="14" refX="10" refY="7" orient="auto"><path d="M16,0 L0,7 L16,14 L13,7 z" fill="#000"/></marker>
</defs>`;
page.insertAdjacentHTML('beforeend',
  `<svg id="overlay" width="1752" height="1607" xmlns="http://www.w3.org/2000/svg">${defs}${out.join('')}</svg>`);
</script>
</body>
</html>
